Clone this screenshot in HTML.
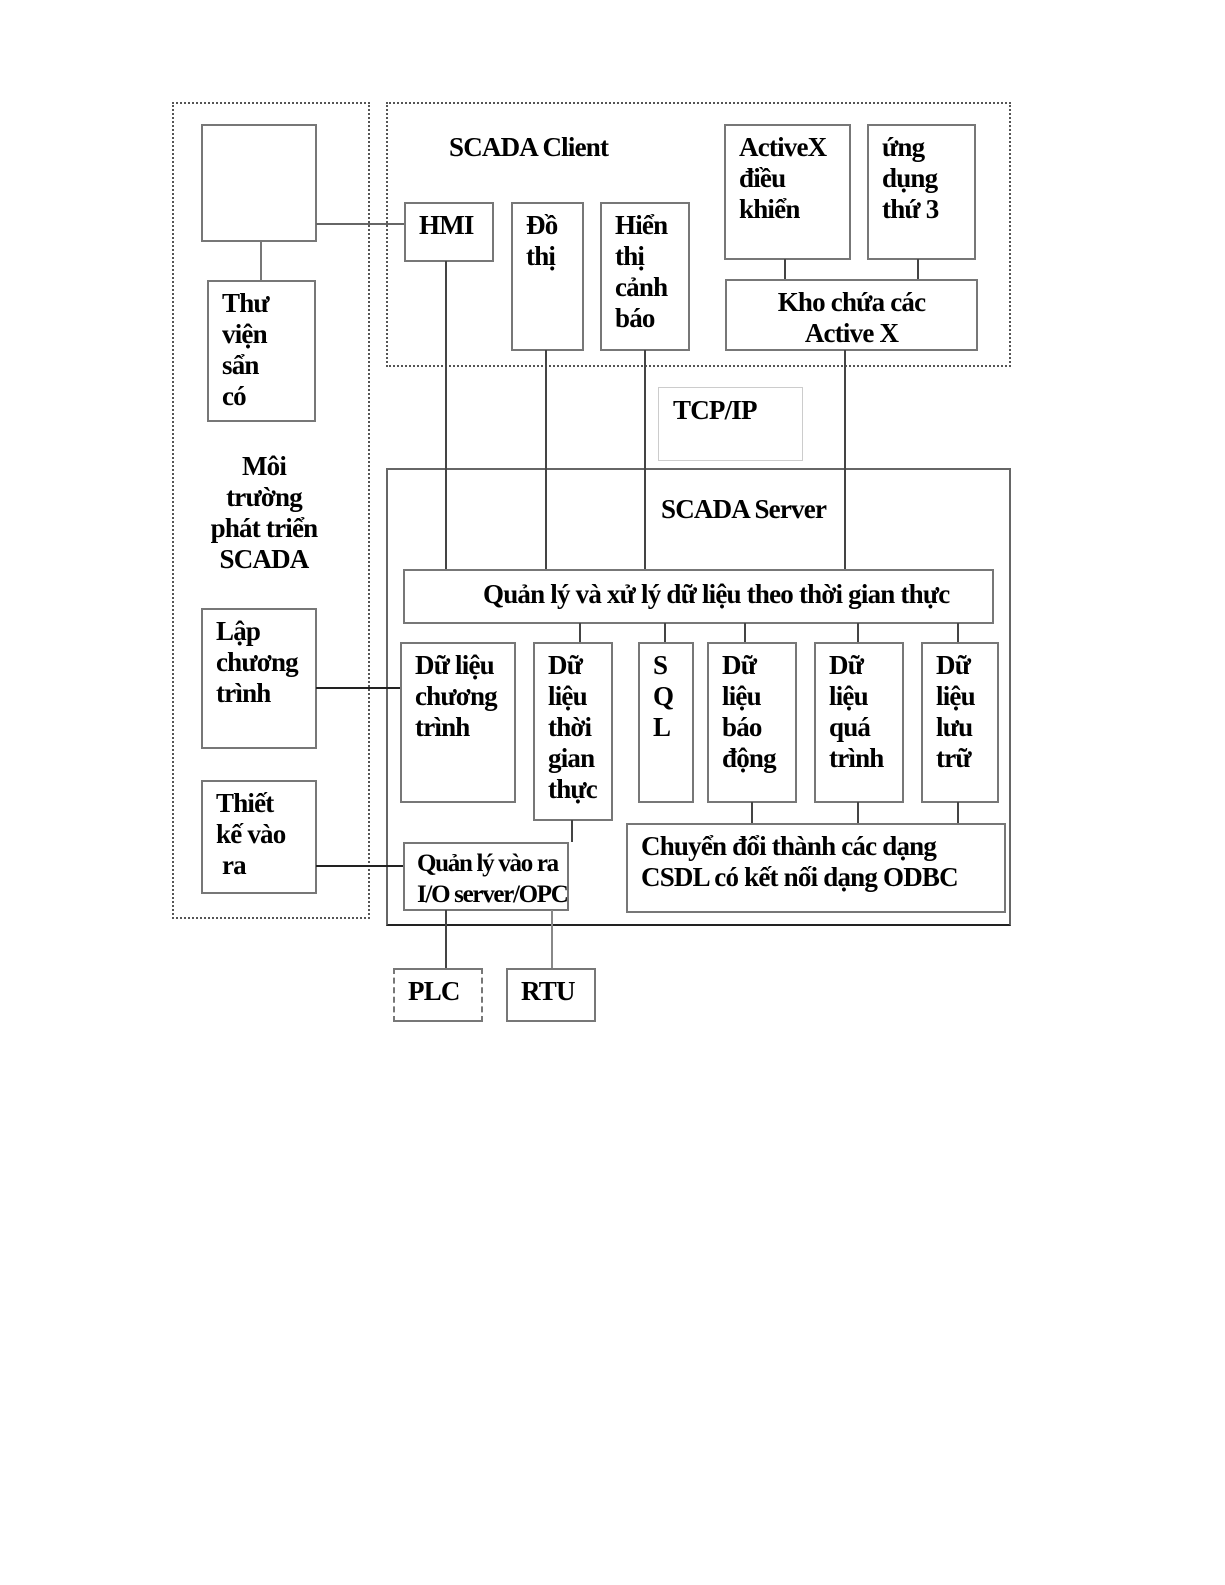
<!DOCTYPE html>
<html><head><meta charset="utf-8"><style>
body{margin:0;background:#fff;width:1225px;height:1585px;position:relative;overflow:hidden}
.b{position:absolute;border:2px solid #777;box-sizing:border-box;font-family:"Liberation Serif",serif;font-weight:bold;font-size:27px;line-height:31px;letter-spacing:-0.8px;color:#000;padding:6px 0 0 13px;white-space:nowrap}
.d{position:absolute;border:2px dotted #555;box-sizing:border-box}
.t{position:absolute;font-family:"Liberation Serif",serif;font-weight:bold;font-size:27px;line-height:31px;letter-spacing:-0.8px;white-space:nowrap}
.h{position:absolute;height:2px;background:#666}
.v{position:absolute;width:2px;background:#444}
</style></head><body>
<div class="d" style="left:172px;top:102px;width:198px;height:817px"></div>
<div class="d" style="left:386px;top:102px;width:625px;height:265px"></div>
<div style="position:absolute;left:386px;top:468px;width:625px;height:458px;border:2px solid #666;border-bottom-color:#222;box-sizing:border-box"></div>
<div style="position:absolute;left:658px;top:387px;width:145px;height:74px;border:1px solid #ccc;box-sizing:border-box"></div>

<div class="t" style="left:449px;top:132px">SCADA Client</div>
<div class="t" style="left:673px;top:395px">TCP/IP</div>
<div class="t" style="left:661px;top:494px">SCADA Server</div>
<div class="t" style="left:206px;top:451px;text-align:center;width:116px">Môi<br>trường<br>phát triển<br>SCADA</div>

<div class="b" style="left:201px;top:124px;width:116px;height:118px"></div>
<div class="b" style="left:207px;top:280px;width:109px;height:142px">Thư<br>viện<br>sẩn<br>có</div>
<div class="b" style="left:201px;top:608px;width:116px;height:141px">Lập<br>chương<br>trình</div>
<div class="b" style="left:201px;top:780px;width:116px;height:114px">Thiết<br>kế vào<br>&nbsp;ra</div>

<div class="b" style="left:404px;top:202px;width:90px;height:60px">HMI</div>
<div class="b" style="left:511px;top:202px;width:73px;height:149px">Đồ<br>thị</div>
<div class="b" style="left:600px;top:202px;width:90px;height:149px">Hiển<br>thị<br>cảnh<br>báo</div>
<div class="b" style="left:724px;top:124px;width:127px;height:136px">ActiveX<br>điều<br>khiển</div>
<div class="b" style="left:867px;top:124px;width:109px;height:136px">ứng<br>dụng<br>thứ 3</div>
<div class="b" style="left:725px;top:279px;width:253px;height:72px;text-align:center;padding-left:0">Kho chứa các<br>Active X</div>

<div class="b" style="left:403px;top:569px;width:591px;height:55px;padding:8px 0 0 78px">Quản lý và xử lý dữ liệu theo thời gian thực</div>
<div class="b" style="left:400px;top:642px;width:116px;height:161px">Dữ liệu<br>chương<br>trình</div>
<div class="b" style="left:533px;top:642px;width:80px;height:179px">Dữ<br>liệu<br>thời<br>gian<br>thực</div>
<div class="b" style="left:638px;top:642px;width:56px;height:161px">S<br>Q<br>L</div>
<div class="b" style="left:707px;top:642px;width:90px;height:161px">Dữ<br>liệu<br>báo<br>động</div>
<div class="b" style="left:814px;top:642px;width:90px;height:161px">Dữ<br>liệu<br>quá<br>trình</div>
<div class="b" style="left:921px;top:642px;width:78px;height:161px">Dữ<br>liệu<br>lưu<br>trữ</div>
<div class="b" style="left:626px;top:823px;width:380px;height:90px">Chuyển đổi thành các dạng<br>CSDL có kết nối dạng ODBC</div>
<div class="b" style="left:403px;top:842px;width:166px;height:69px;padding:4px 0 0 12px;font-size:25px;letter-spacing:-1.3px">Quản lý vào ra<br>I/O server/OPC</div>
<div class="b" style="left:393px;top:968px;width:90px;height:54px;border-left-style:dashed;border-right-style:dashed">PLC</div>
<div class="b" style="left:506px;top:968px;width:90px;height:54px">RTU</div>

<div class="h" style="left:316px;top:223px;width:88px"></div>
<div class="v" style="left:260px;top:241px;height:39px;background:#777"></div>
<div class="v" style="left:445px;top:261px;height:308px"></div>
<div class="v" style="left:545px;top:350px;height:219px"></div>
<div class="v" style="left:644px;top:350px;height:219px"></div>
<div class="v" style="left:844px;top:350px;height:219px"></div>
<div class="v" style="left:784px;top:259px;height:20px"></div>
<div class="v" style="left:917px;top:259px;height:20px"></div>
<div class="v" style="left:579px;top:623px;height:19px"></div>
<div class="v" style="left:664px;top:623px;height:19px"></div>
<div class="v" style="left:744px;top:623px;height:19px"></div>
<div class="v" style="left:857px;top:623px;height:19px"></div>
<div class="v" style="left:957px;top:623px;height:19px"></div>
<div class="v" style="left:751px;top:802px;height:21px"></div>
<div class="v" style="left:857px;top:802px;height:21px"></div>
<div class="v" style="left:957px;top:802px;height:21px"></div>
<div class="v" style="left:571px;top:820px;height:22px"></div>
<div class="h" style="left:316px;top:687px;width:84px;background:#222"></div>
<div class="h" style="left:316px;top:865px;width:87px;background:#222"></div>
<div class="v" style="left:445px;top:910px;height:58px"></div>
<div class="v" style="left:551px;top:910px;height:58px;background:#888"></div>
</body></html>
